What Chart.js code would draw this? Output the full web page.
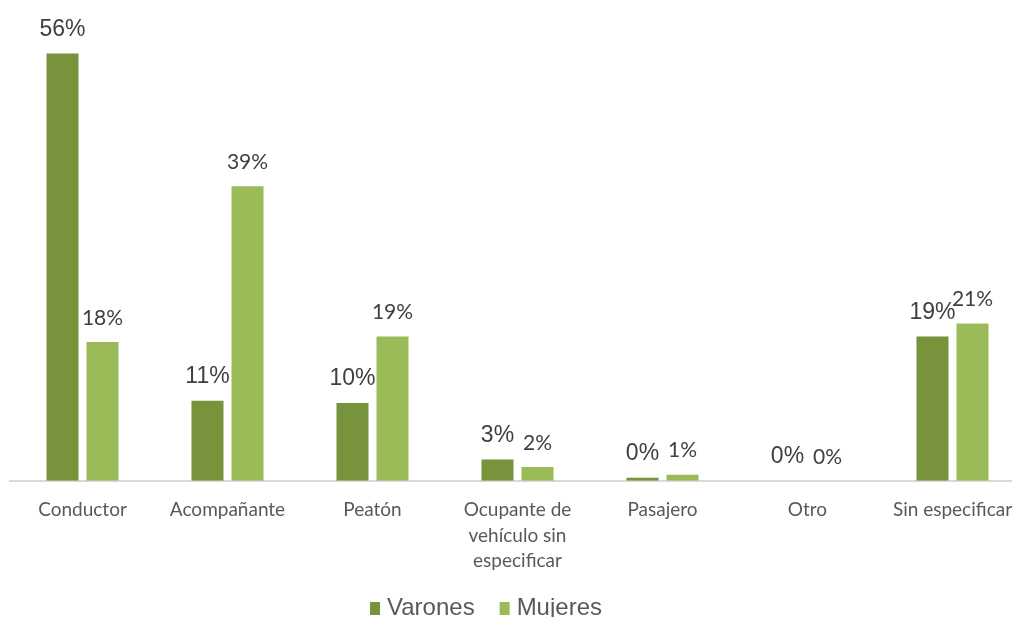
<!DOCTYPE html>
<html>
<head>
<meta charset="utf-8">
<script src="https://cdn.jsdelivr.net/npm/chart.js@4"></script>
<style>
  html, body { margin: 0; padding: 0; background: #fff; overflow: hidden; }
  #wrap { width: 1025px; height: 617px; position: relative; }
</style>
</head>
<body>
<div id="wrap"><canvas id="chart"></canvas></div>
<script>
// categorías y valores (%)
const categorias = ["Conductor", "Acompañante", "Peatón", ["Ocupante de", "vehículo sin", "especificar"], "Pasajero", "Otro", "Sin especificar"];
const varones = [56, 10.5, 10.2, 2.8, 0.4, 0, 18.9];
const mujeres = [18.2, 38.6, 18.9, 1.8, 0.8, 0, 20.6];
const series = ["Varones", "Mujeres"];
const colores = ["#77933c", "#9bbb59"];

// etiquetas de valor encima de cada barra
const valueLabels = {
  id: "valueLabels",
  afterDatasetsDraw(chart) {
    const ctx = chart.ctx;
    ctx.save();
    ctx.textAlign = "center";
    ctx.textBaseline = "middle";
    ctx.fillStyle = "#404040";
    chart.data.datasets.forEach((ds, i) => {
      ctx.font = i === 0 ? "23px 'Liberation Sans'" : "21px Lato";
      chart.getDatasetMeta(i).data.forEach((bar, j) => {
        ctx.fillText(Math.round(ds.data[j]) + "%", bar.x, bar.y - 24);
      });
    });
    ctx.restore();
  }
};

// leyenda abajo
const bottomLegend = {
  id: "bottomLegend",
  afterDraw(chart) {
    const ctx = chart.ctx;
    ctx.save();
    ctx.font = "24px 'Liberation Sans'";
    ctx.textBaseline = "middle";
    const box = 10, gapText = 7, gapItem = 25;
    const widths = series.map(s => ctx.measureText(s).width);
    let total = 0;
    widths.forEach((w, i) => { total += box + gapText + w + (i ? gapItem : 0); });
    let x = 486 - total / 2;
    const y = 608;
    series.forEach((s, i) => {
      ctx.fillStyle = colores[i];
      ctx.fillRect(x, y - 6, box, 13);
      ctx.fillStyle = "#595959";
      ctx.fillText(s, x + box + gapText, y);
      x += box + gapText + widths[i] + gapItem;
    });
    ctx.restore();
  }
};

new Chart(document.getElementById("chart"), {
  type: "bar",
  data: {
    labels: categorias,
    datasets: [
      { label: series[0], data: varones, backgroundColor: colores[0] },
      { label: series[1], data: mujeres, backgroundColor: colores[1] }
    ]
  },
  options: {
    responsive: true,
    maintainAspectRatio: false,
    animation: false,
    layout: { padding: { top: 23, left: 10, right: 0, bottom: 35 } },
    datasets: { bar: { categoryPercentage: 0.552, barPercentage: 0.8 } },
    plugins: {
      legend: { display: false },
      tooltip: { enabled: false }
    },
    scales: {
      x: {
        grid: { display: false },
        border: { display: true, color: "#d9d9d9", width: 2 },
        ticks: {
          color: "#595959",
          font: { family: "Lato", size: 19, lineHeight: 1.32 },
          padding: 9,
          maxRotation: 0,
          autoSkip: false
        }
      },
      y: {
        display: false,
        min: 0,
        max: 60
      }
    }
  },
  plugins: [valueLabels, bottomLegend]
});
</script>
</body>
</html>
